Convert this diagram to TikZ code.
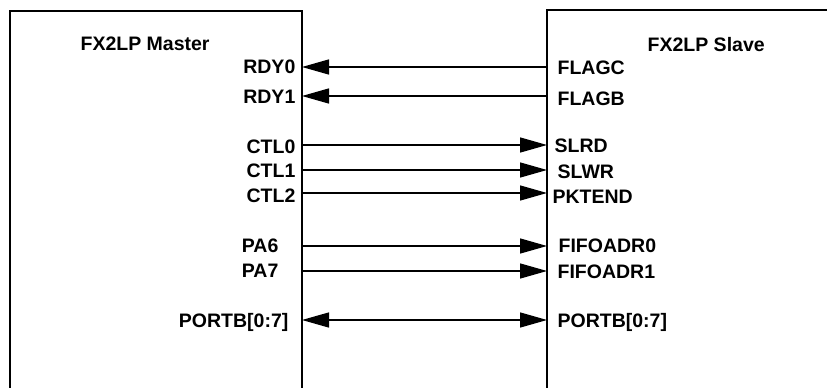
\documentclass[tikz,border=0pt]{standalone}
\usepackage{fontspec}
\setmainfont{Liberation Sans}
\usepackage{tikz}
\usetikzlibrary{arrows.meta}

\begin{document}
\begin{tikzpicture}[x=1pt,y=-1pt,line width=1.3pt,
  pin/.style={font=\fontsize{19.5}{22}\selectfont\bfseries,inner sep=0pt},
  lpin/.style={pin,anchor=base east},
  rpin/.style={pin,anchor=base west},
  sig/.style={-{Triangle[length=27pt,width=15pt]}},
  bus/.style={{Triangle[length=27pt,width=15pt]}-{Triangle[length=27pt,width=15pt]}}]
\useasboundingbox (0,0) rectangle (827,388);

% the two chips
\draw (10,388) -- (10,11) -- (302,11) -- (302,388);
\draw (547,388) -- (547,10) -- (827,10);
\node[pin,anchor=base west] (master) at (80,50.5) {FX2LP Master};
\node[pin,anchor=base west] (slave) at (647,51) {FX2LP Slave};

% master pins
\node[lpin] (RDY0) at (296,73) {RDY0};
\node[lpin] (RDY1) at (296,103) {RDY1};
\node[lpin] (CTL0) at (296,153) {CTL0};
\node[lpin] (CTL1) at (296,177) {CTL1};
\node[lpin] (CTL2) at (296,202) {CTL2};
\node[lpin] (PA6) at (279,252) {PA6};
\node[lpin] (PA7) at (279,277) {PA7};
\node[lpin] (PORTBm) at (289,327) {PORTB[0:7]};

% slave pins
\node[rpin] (FLAGC) at (557,74) {FLAGC};
\node[rpin] (FLAGB) at (557,105) {FLAGB};
\node[rpin] (SLRD) at (554,152) {SLRD};
\node[rpin] (SLWR) at (557,178) {SLWR};
\node[rpin] (PKTEND) at (552,203) {PKTEND};
\node[rpin] (FIFOADR0) at (558,252.5) {FIFOADR0};
\node[rpin] (FIFOADR1) at (557,278) {FIFOADR1};
\node[rpin] (PORTBs) at (557,327) {PORTB[0:7]};

% pin points on the chip edges
\coordinate (m1) at (302,67);
\coordinate (m2) at (302,96);
\coordinate (m3) at (302,145);
\coordinate (m4) at (302,170);
\coordinate (m5) at (302,193);
\coordinate (m6) at (302,246);
\coordinate (m7) at (302,271);
\coordinate (m8) at (302,320);
\coordinate (s1) at (547,67);
\coordinate (s2) at (547,96);
\coordinate (s3) at (547,145);
\coordinate (s4) at (547,170);
\coordinate (s5) at (547,193);
\coordinate (s6) at (547,246);
\coordinate (s7) at (547,271);
\coordinate (s8) at (547,320);

\path (s1) edge [sig] (m1);
\path (s2) edge [sig] (m2);
\path (m3) edge [sig] (s3);
\path (m4) edge [sig] (s4);
\path (m5) edge [sig] (s5);
\path (m6) edge [sig] (s6);
\path (m7) edge [sig] (s7);
\path (m8) edge [bus] (s8);
\end{tikzpicture}
\end{document}
